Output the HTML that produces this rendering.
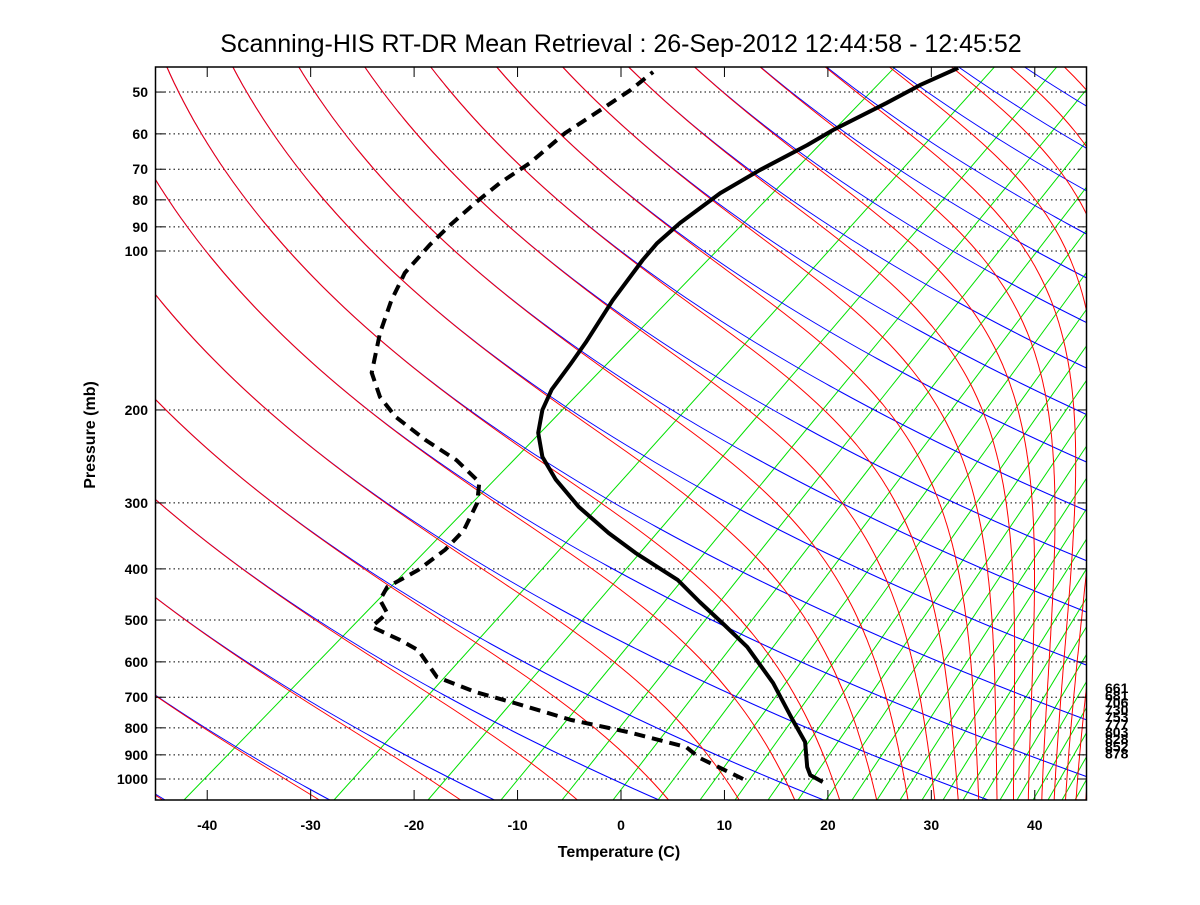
<!DOCTYPE html>
<html><head><meta charset="utf-8"><style>
body{margin:0;background:#fff;}
svg text{font-family:"Liberation Sans",sans-serif;}
</style></head><body>
<svg id="chart" width="1200" height="900" viewBox="0 0 1200 900" xmlns="http://www.w3.org/2000/svg">
<defs><clipPath id="plotclip"><rect x="155.5" y="67" width="931" height="733"/></clipPath></defs>
<rect x="0" y="0" width="1200" height="900" fill="#fff"/>
<text x="621" y="52" font-size="25" text-anchor="middle">Scanning-HIS RT-DR Mean Retrieval : 26-Sep-2012 12:44:58 - 12:45:52</text>
<g id="grid" clip-path="url(#plotclip)"></g>
<g id="bg" clip-path="url(#plotclip)"></g>
<g id="series" clip-path="url(#plotclip)"></g>
<rect x="155.5" y="67" width="931" height="733" fill="none" stroke="#000" stroke-width="1.5"/>
<g id="axes"></g>
<text x="619" y="857" font-size="16" font-weight="bold" text-anchor="middle">Temperature (C)</text>
<text transform="translate(95,435) rotate(-90)" font-size="16" font-weight="bold" text-anchor="middle">Pressure (mb)</text>
<g id="rlabels"></g>
</svg>
<script>
// ---- data ----
const xTicks=[-40,-30,-20,-10,0,10,20,30,40];
const pTicks=[50,60,70,80,90,100,200,300,400,500,600,700,800,900,1000];
const tempP=[1013,983,949,851,773,658,562,511,462,420,373,342,305,271,245.5,221,200,183,163,149,124,104,96.6,88.5,77.7,70.3,63,59,52.4,48.5,45];
const tempT=[19.5,18.3,18.0,17.8,16.6,14.7,12.2,10.0,7.6,5.5,1.4,-1.2,-4.1,-6.3,-7.6,-8.0,-7.6,-6.7,-4.8,-3.4,-0.8,2.1,3.5,5.7,9.6,13.4,18.0,20.5,25.7,28.9,32.6];
const dewP=[1000,912,870,815,773,718,684,641,570,545,515,485,458,433,402,368,338,300,274,249,228,206,189,170,143,124,110,97.4,89.3,81.1,74.3,68.1,59.8,54.1,49.6,45.8];
const dewT=[11.8,7.6,6.3,0.7,-4.8,-10.3,-14.1,-17.8,-19.6,-21.4,-24.1,-22.6,-23.3,-22.6,-19.6,-17.0,-15.2,-13.9,-13.7,-15.9,-18.9,-21.8,-23.3,-24.1,-23.3,-22.2,-20.9,-18.5,-16.5,-14.1,-11.7,-8.8,-5.4,-2.0,0.9,3.1];
const rightLabels=["661","681","706","730","753","777","803","828","852","878"];
const greenBottom=[184,334,428,501,562,613,658,700,735,768,798,826,852,877,900,922,943,963,982,1000,1017,1033,1048,1062,1075,1086];
// ---- scales ----
const SK=68, X0=155.5, X1=1086.5, YB=800, YT=67;
function X(t){return X0+(t+45)*(X1-X0)/90;}
function Y(p){return 779+528*Math.log10(p/1000);}
function Pof(y){return 1000*Math.pow(10,(y-779)/528);}
const NS="http://www.w3.org/2000/svg";
function mk(tag,attrs,parent){const e=document.createElementNS(NS,tag);for(const k in attrs)e.setAttribute(k,attrs[k]);parent.appendChild(e);return e;}
const grid=document.getElementById('grid'),bg=document.getElementById('bg'),ser=document.getElementById('series'),axes=document.getElementById('axes');
pTicks.forEach(p=>{const l=mk('line',{x1:X0,x2:X1,y1:Y(p),y2:Y(p),stroke:'#000','stroke-width':1,'stroke-dasharray':'1.5,3'},grid);

});
greenBottom.forEach((xb,i)=>{const s=0.97-0.00046*(xb-184);const u=800;
const l=mk('line',{x1:xb,y1:YB,x2:xb+s*u,y2:YB-u,stroke:'#00e000','stroke-width':1},bg);

});
function pathFrom(fn){let d='';for(let y=YB;y>=YT-4;y-=3){const p=Pof(y);const T=fn(p);const x=X(T+SK*Math.log10(1000/p));d+=(d?'L':'M')+x.toFixed(1)+','+y.toFixed(1);}return d;}
const thetas=[];for(let k=-3;k<=22;k++)thetas.push(241.3+15.5*k);
function es(tc){return 6.112*Math.exp(17.67*tc/(tc+243.5));}
function thetaE(T,p){const e=es(T-273.15);let ws=(e>=p*0.6)?1:0.622*e/(p-e);return T*Math.pow(1000/p,0.286)*Math.exp(2.5e6*ws/(1004*T));}
thetas.forEach((th,i)=>{
 const pb=mk('path',{d:pathFrom(p=>th*Math.pow(p/1000,0.286)-273.15),fill:'none',stroke:'#0000ff','stroke-width':1},bg);
 
 
});
thetas.forEach((th,i)=>{
 const dd=pathFrom(p=>{let lo=120,hi=340;for(let j=0;j<40;j++){const m=(lo+hi)/2;if(thetaE(m,p)>th)hi=m;else lo=m;}return (lo+hi)/2-273.15;});
 const pr=mk('path',{d:dd,fill:'none',stroke:'#ff0000','stroke-width':1},bg);
 
 
});
function prof(P,T){return P.map((p,i)=>(i?'L':'M')+X(T[i]).toFixed(1)+','+Y(p).toFixed(1)).join('');}
const tl=mk('path',{d:prof(tempP,tempT),fill:'none',stroke:'#000','stroke-width':4,'stroke-linejoin':'round'},ser);


const dl=mk('path',{d:prof(dewP,dewT),fill:'none',stroke:'#000','stroke-width':4,'stroke-dasharray':'11,7'},ser);


xTicks.forEach(t=>{const x=X(t);
 mk('line',{x1:x,x2:x,y1:YB,y2:YB-10,stroke:'#000','stroke-width':1},axes);
 mk('line',{x1:x,x2:x,y1:YT,y2:YT+10,stroke:'#000','stroke-width':1},axes);
 const tx=mk('text',{x:x,y:830,'font-size':14,'font-weight':'bold','text-anchor':'middle'},axes);tx.textContent=t;
 
 });
pTicks.forEach(p=>{const y=Y(p);
 mk('line',{x1:X0,x2:X0+9,y1:y,y2:y,stroke:'#000','stroke-width':1},axes);
 mk('line',{x1:X1-9,x2:X1,y1:y,y2:y,stroke:'#000','stroke-width':1},axes);
 const tx=mk('text',{x:148,y:y+5,'font-size':14,'font-weight':'bold','text-anchor':'end'},axes);tx.textContent=p;
 
 });
const rl=document.getElementById('rlabels');
rightLabels.forEach((s,i)=>{const tx=mk('text',{x:1105,y:693+i*7.3,'font-size':14,'font-weight':'bold'},rl);tx.textContent=s;
 
 });
</script>
</body></html>
